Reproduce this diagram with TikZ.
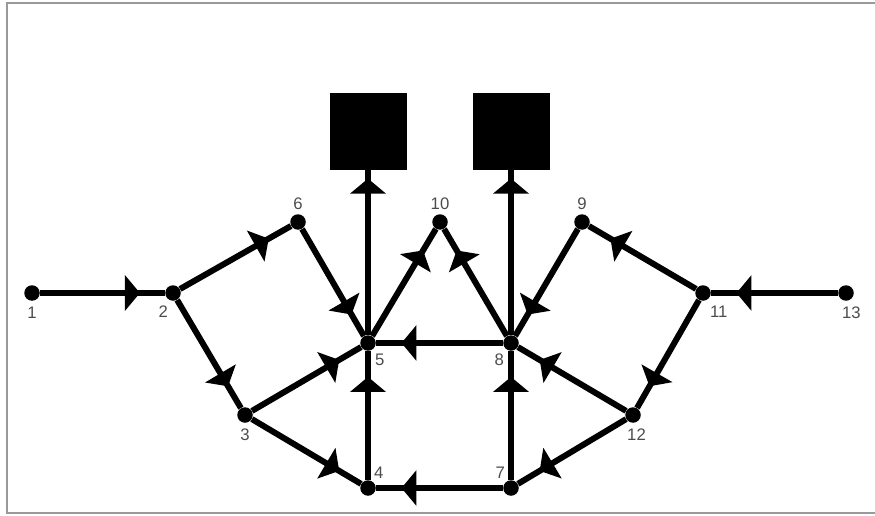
\documentclass[tikz,border=0pt]{standalone}
\usepackage{fontspec}
\setmainfont{Liberation Sans}
\usetikzlibrary{arrows.meta,decorations.markings}

\begin{document}
\begin{tikzpicture}[x=1cm,y=1cm]
\tikzset{
  junction/.style={circle,fill,inner sep=0pt,minimum size=3.1mm},
  sinkbox/.style={fill,inner sep=0pt,minimum size=15.4mm},
  numlbl/.style={font=\fontsize{9.5}{11}\selectfont,text=black!70,inner sep=1pt},
  flow/.style={line width=0.12cm,postaction=decorate,
    decoration={markings,mark=at position #1 with {\arrow{Triangle[length=3mm,width=7mm]}}}},
  flow/.default=0.8,
  frame/.style={gray!80,line width=0.04cm}
}
\useasboundingbox (0,0) rectangle (17.50,10.30);
\draw[frame] (17.50,10.24) -- (0.14,10.24) -- (0.14,0.04) -- (17.50,0.04);
\node[junction,label={[numlbl,label distance=2pt]below:1}] (n_1) at (0.64,4.44) {};
\node[junction,label={[numlbl,label distance=2pt]-105:2}] (n_2) at (3.46,4.44) {};
\node[junction,label={[numlbl,label distance=2pt]below:3}] (n_3) at (4.90,2.00) {};
\node[junction,label={[numlbl,label distance=0pt]60:4}] (n_4) at (7.36,0.54) {};
\node[junction,label={[numlbl,label distance=1pt]-60:5}] (n_5) at (7.36,3.44) {};
\node[junction,label={[numlbl,label distance=1pt]above:6}] (n_6) at (5.96,5.86) {};
\node[junction,label={[numlbl,label distance=0pt]120:7}] (n_7) at (10.22,0.54) {};
\node[junction,label={[numlbl,label distance=1pt]-120:8}] (n_8) at (10.22,3.44) {};
\node[junction,label={[numlbl,label distance=1pt]above:9}] (n_9) at (11.64,5.86) {};
\node[junction,label={[numlbl,label distance=1pt]above:10}] (n_10) at (8.80,5.86) {};
\node[junction,label={[numlbl,label distance=2pt]-65:11}] (n_11) at (14.06,4.44) {};
\node[junction,label={[numlbl,label distance=2pt,xshift=2pt]below:12}] (n_12) at (12.66,2.00) {};
\node[junction,label={[numlbl,label distance=2pt,xshift=3pt]below:13}] (n_13) at (16.92,4.44) {};
\node[sinkbox] (sinkL) at (7.36,7.67) {};
\node[sinkbox] (sinkR) at (10.22,7.67) {};
\draw[flow] (n_1) -- (n_2);
\draw[flow] (n_2) -- (n_6);
\draw[flow] (n_2) -- (n_3);
\draw[flow] (n_6) -- (n_5);
\draw[flow] (n_3) -- (n_5);
\draw[flow] (n_3) -- (n_4);
\draw[flow] (n_4) -- (n_5);
\draw[flow] (n_5) -- (n_10);
\draw[flow=0.95] (n_5) -- (sinkL);
\draw[flow] (n_8) -- (n_10);
\draw[flow=0.95] (n_8) -- (sinkR);
\draw[flow] (n_8) -- (n_5);
\draw[flow] (n_7) -- (n_4);
\draw[flow] (n_7) -- (n_8);
\draw[flow] (n_12) -- (n_7);
\draw[flow] (n_12) -- (n_8);
\draw[flow] (n_11) -- (n_12);
\draw[flow] (n_11) -- (n_9);
\draw[flow] (n_9) -- (n_8);
\draw[flow] (n_13) -- (n_11);
\end{tikzpicture}
\end{document}
